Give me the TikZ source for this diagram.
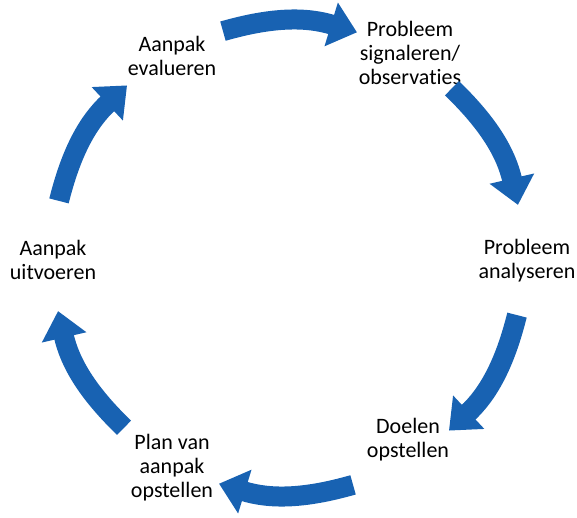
\documentclass[tikz,border=0pt]{standalone}
\usepackage{fontspec}
\setmainfont{Carlito}[Ligatures={NoCommon}]
\usetikzlibrary{arrows.meta}

\definecolor{cycleblue}{RGB}{24,98,178}

\tikzset{
    stage/.style={align=center, inner sep=0pt, font=\fontsize{22}{24}\selectfont},
    flow/.style={draw=cycleblue, line width=20pt, -{Triangle[length=27pt, width=44pt]}}
}

\begin{document}
\begin{tikzpicture}[x=1pt, y=1pt]

    % Fix the page size (centre of the cycle at the origin)
    \useasboundingbox (-288,-259) rectangle (289,258);

    % The six stages of the cycle
    \node[stage] (evalueren)  at (-116,202) {Aanpak\\evalueren};
    \node[stage] (signaleren) at (122,205)  {Probleem\\signaleren/\\observaties};
    \node[stage] (analyseren) at (239,-3)   {Probleem\\analyseren};
    \node[stage] (doelen)     at (120,-182) {Doelen\\opstellen};
    \node[stage] (plan)       at (-116,-210) {Plan van\\aanpak\\opstellen};
    \node[stage] (uitvoeren)  at (-235,-2)  {Aanpak\\uitvoeren};

    % Curved arrows between the stages, clockwise
    \foreach \i in {0,...,5} {
        \pgfmathsetmacro{\sa}{106-60*\i}
        \pgfmathsetmacro{\ea}{73-60*\i}
        \coordinate (from\i) at (\sa:236);
        \coordinate (to\i) at (\ea:236);
        \draw[flow] (from\i) to[bend left=16.5] (to\i);
    }

\end{tikzpicture}
\end{document}
